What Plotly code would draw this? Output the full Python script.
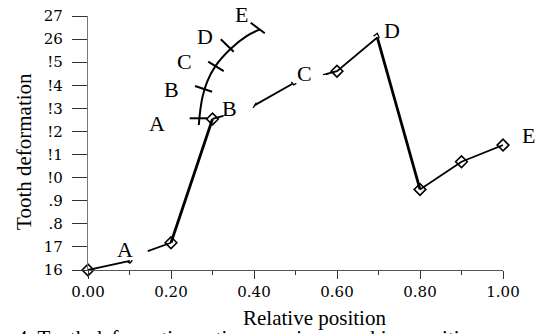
import plotly.graph_objects as go

# ---------------- data ----------------
x_range = [0.0, 1.0]
y_range = [16.0, 27.0]
x_tick_vals = [0.0, 0.2, 0.4, 0.6, 0.8, 1.0]
x_tick_text = ["0.00", "0.20", "0.40", "0.60", "0.80", "1.00"]
y_tick_vals = [16, 17, 18, 19, 20, 21, 22, 23, 24, 25, 26, 27]
y_tick_text = ["16", "17", ".8", ".9", "!0", "!1", "!2", "!3", "!4", "!5", "26", "27"]

# diamond-marked points of the main curve
marker_x = [0.0, 0.2, 0.3, 0.6, 0.8, 0.9, 1.0]
marker_y = [16.0, 17.18, 22.54, 24.61, 19.49, 20.69, 21.41]

# thin broken pieces of the main curve (None = gap)
thin_x = [0.0, 0.101, None, 0.144, 0.2, None, 0.3, 0.326, None,
          0.402, 0.494, None, 0.573, 0.6, 0.697, None, 0.8, 0.9, 1.0]
thin_y = [16.0, 16.40, None, 16.82, 17.18, None, 22.54, 22.67, None,
          23.14, 24.08, None, 24.48, 24.61, 26.07, None, 19.49, 20.69, 21.41]

# thick steep pieces
thick_x = [0.2, 0.3, None, 0.697, 0.8]
thick_y = [17.18, 22.54, None, 26.07, 19.49]

# small end hooks of the broken pieces
hook_x = [0.095, 0.101, 0.107, None, 0.398, 0.406, None, 0.49, 0.496, 0.502, None,
          0.566, 0.58, None, 0.688, 0.697, 0.702]
hook_y = [16.36, 16.30, 16.42, None, 23.02, 23.25, None, 24.15, 24.02, 24.08, None,
          24.46, 24.50, None, 26.12, 26.25, 26.05]

# arc (scale) drawn near the steep rise
arc_x = [0.267, 0.2696, 0.276, 0.287, 0.307, 0.342, 0.382, 0.414]
arc_y = [22.28, 22.78, 23.50, 24.15, 24.83, 25.55, 26.13, 26.42]

# cross ticks on the arc
arc_tick_x = [0.245, 0.287, None, 0.258, 0.299, None, 0.2896, 0.327, None,
              0.320, 0.351, None, 0.392, 0.426]
arc_tick_y = [22.57, 22.57, None, 23.97, 23.72, None, 25.02, 24.61, None,
              25.99, 25.45, None, 26.71, 26.25]

# letter labels
arc_lab_text = ["A", "B", "C", "D", "E"]
arc_lab_x = [0.167, 0.201, 0.233, 0.282, 0.370]
arc_lab_y = [22.35, 23.82, 25.02, 26.10, 27.08]
main_lab_text = ["A", "B", "C", "D", "E"]
main_lab_x = [0.089, 0.342, 0.522, 0.733, 1.062]
main_lab_y = [16.90, 23.00, 24.50, 26.39, 21.84]

x_title = "Relative position"
y_title = "Tooth deformation"
caption = "4. Tooth deformation ratio on various meshing positions"

# ---------------- figure ----------------
SERIF = "Liberation Serif, Times New Roman, serif"
TICKF = "DejaVu Serif, serif"

fig = go.Figure()
fig.add_trace(go.Scatter(x=arc_x, y=arc_y, mode="lines", line=dict(color="black", width=2),
                         line_shape="spline", cliponaxis=False, hoverinfo="skip"))
fig.add_trace(go.Scatter(x=arc_tick_x, y=arc_tick_y, mode="lines",
                         line=dict(color="black", width=2), cliponaxis=False, hoverinfo="skip"))
fig.add_trace(go.Scatter(x=thin_x, y=thin_y, mode="lines", line=dict(color="black", width=1.8),
                         cliponaxis=False, hoverinfo="skip"))
fig.add_trace(go.Scatter(x=thick_x, y=thick_y, mode="lines", line=dict(color="black", width=2.8),
                         cliponaxis=False, hoverinfo="skip"))
fig.add_trace(go.Scatter(x=hook_x, y=hook_y, mode="lines", line=dict(color="black", width=1.3),
                         cliponaxis=False, hoverinfo="skip"))
fig.add_trace(go.Scatter(x=marker_x, y=marker_y, mode="markers", cliponaxis=False,
                         marker=dict(symbol="diamond-open", size=9, color="black",
                                     line=dict(width=1.6, color="black")),
                         hoverinfo="skip"))

# letter labels as paper-referenced annotations (some lie outside the axis range)
for t, x, y in zip(arc_lab_text + main_lab_text, arc_lab_x + main_lab_x, arc_lab_y + main_lab_y):
    px = (x - x_range[0]) / (x_range[1] - x_range[0])
    py = (y - y_range[0]) / (y_range[1] - y_range[0])
    fig.add_annotation(text=t, x=px, y=py, xref="paper", yref="paper", showarrow=False,
                       xanchor="center", yanchor="middle",
                       font=dict(family=SERIF, size=22, color="black"))

fig.add_annotation(text=x_title, xref="paper", yref="paper", x=0.546, y=-0.189,
                   xanchor="center", yanchor="middle",
                   showarrow=False, font=dict(family=SERIF, size=21, color="black"))
fig.add_annotation(text=y_title, xref="paper", yref="paper", x=-0.154, y=0.465,
                   xanchor="center", yanchor="middle",
                   textangle=-90, showarrow=False, font=dict(family=SERIF, size=21, color="black"))
fig.add_annotation(text=caption, xref="paper", yref="paper", x=-0.176, y=-0.212,
                   xanchor="left", yanchor="top", showarrow=False,
                   font=dict(family=SERIF, size=21, color="black"))

fig.update_layout(
    width=537, height=334,
    margin=dict(l=88, r=33.5, t=16, b=64, autoexpand=False),
    paper_bgcolor="white", plot_bgcolor="white",
    showlegend=False,
    xaxis=dict(range=x_range, tickvals=x_tick_vals, ticktext=x_tick_text,
               showgrid=False, zeroline=False, showline=True, linecolor="#555", linewidth=1.3,
               ticks="outside", ticklen=8, tickcolor="#333", tickwidth=1.3,
               minor=dict(dtick=0.1, tick0=0, ticks="outside", ticklen=4, tickcolor="#333"),
               tickfont=dict(family=TICKF, size=15, color="black")),
    yaxis=dict(range=y_range, tickvals=y_tick_vals, ticktext=y_tick_text,
               showgrid=False, zeroline=False, showline=True, linecolor="#777", linewidth=1.3,
               ticks="outside", ticklen=15, tickcolor="#333", tickwidth=1.3,
               ticklabelstandoff=6,
               tickfont=dict(family=TICKF, size=15, color="black")),
)

fig.write_html("out.html", config={"displayModeBar": False},
               post_script="document.body.style.margin='0';document.body.style.overflow='hidden';")
